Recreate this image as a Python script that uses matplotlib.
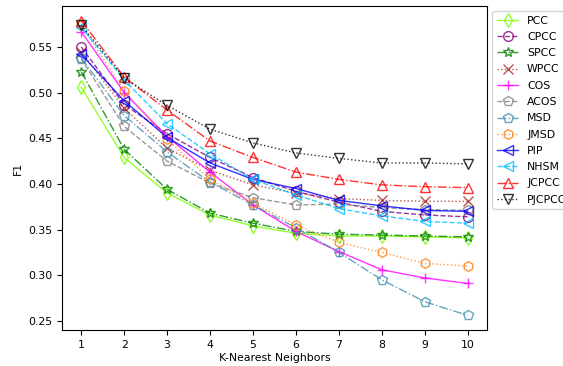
import matplotlib
matplotlib.use("Agg")
import matplotlib.pyplot as plt

plt.rcParams['font.size'] = 7.8

# K values
k = [1, 2, 3, 4, 5, 6, 7, 8, 9, 10]

# F1 per similarity measure
pcc = [0.506, 0.429, 0.390, 0.366, 0.354, 0.346, 0.343, 0.343, 0.342, 0.341]
cpcc = [0.550, 0.487, 0.455, 0.429, 0.407, 0.392, 0.380, 0.370, 0.366, 0.364]
spcc = [0.523, 0.438, 0.394, 0.368, 0.357, 0.348, 0.345, 0.344, 0.343, 0.342]
wpcc = [0.545, 0.483, 0.439, 0.415, 0.399, 0.390, 0.384, 0.382, 0.381, 0.381]
cos = [0.567, 0.500, 0.452, 0.413, 0.377, 0.348, 0.326, 0.306, 0.297, 0.291]
acos = [0.537, 0.463, 0.425, 0.401, 0.385, 0.377, 0.378, 0.374, 0.372, 0.371]
msd = [0.538, 0.475, 0.435, 0.402, 0.377, 0.352, 0.325, 0.295, 0.271, 0.256]
jmsd = [0.574, 0.502, 0.449, 0.405, 0.379, 0.355, 0.336, 0.325, 0.313, 0.310]
pip = [0.542, 0.491, 0.451, 0.423, 0.405, 0.395, 0.382, 0.376, 0.371, 0.370]
nhsm = [0.572, 0.514, 0.466, 0.433, 0.405, 0.388, 0.373, 0.365, 0.359, 0.357]
jcpcc = [0.579, 0.517, 0.481, 0.447, 0.429, 0.413, 0.405, 0.399, 0.397, 0.396]
pjcpcc = [0.574, 0.516, 0.486, 0.460, 0.445, 0.434, 0.428, 0.423, 0.423, 0.422]

series = [
    ("PCC", pcc, "lawngreen", "-", "d"),
    ("CPCC", cpcc, "purple", "--", "o"),
    ("SPCC", spcc, "green", "-.", "*"),
    ("WPCC", wpcc, "brown", ":", "x"),
    ("COS", cos, "magenta", "-", "+"),
    ("ACOS", acos, "gray", "--", "p"),
    ("MSD", msd, "#3f8fae", "-.", "p"),
    ("JMSD", jmsd, "#ff7f0e", ":", "h"),
    ("PIP", pip, "blue", "-", "<"),
    ("NHSM", nhsm, "#00bfff", "--", "<"),
    ("JCPCC", jcpcc, "red", "-.", "^"),
    ("PJCPCC", pjcpcc, "black", ":", "v"),
]

fig, ax = plt.subplots(figsize=(5.63, 3.66), dpi=100)
fig.subplots_adjust(left=0.11, right=0.865, top=0.984, bottom=0.098)

for name, vals, col, ls, mk in series:
    ax.plot(k, vals, linestyle=ls, color=col, marker=mk, markerfacecolor='none',
            markersize=7, linewidth=1, alpha=0.8, label=name)

ax.set_xticks(k)
ax.set_xlabel("K-Nearest Neighbors", labelpad=2)
ax.set_ylabel("F1")
ax.legend(loc="upper left", bbox_to_anchor=(1.0, 1.0), labelspacing=0.58)

fig.savefig("out.png", dpi=100)
